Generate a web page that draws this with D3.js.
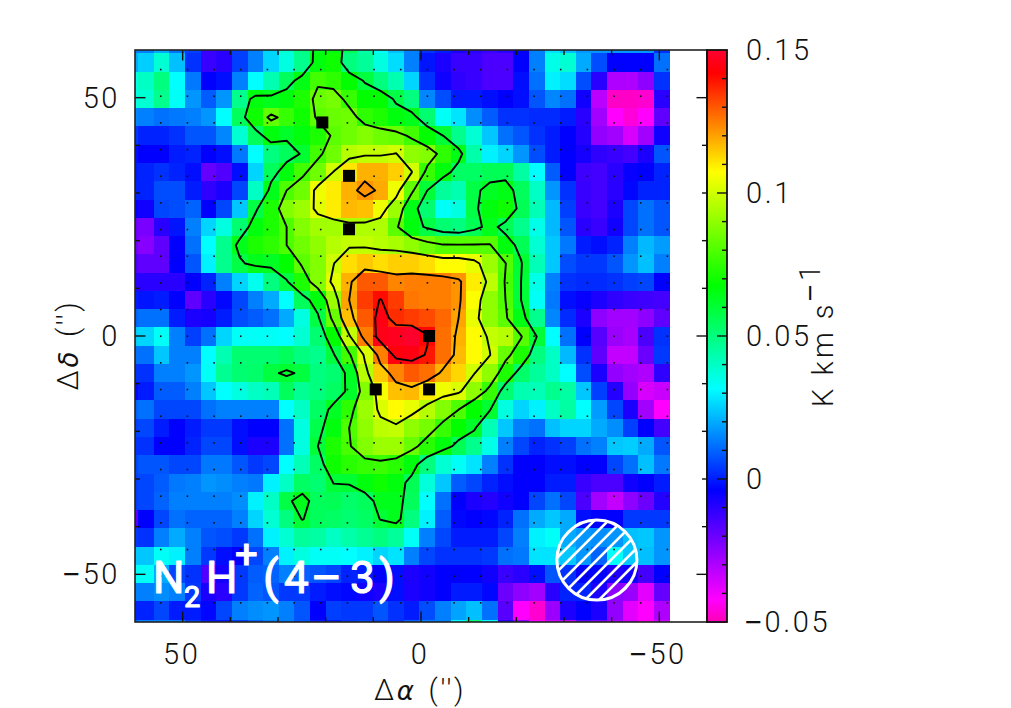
<!DOCTYPE html>
<html><head><meta charset="utf-8">
<script src="https://cdn.jsdelivr.net/npm/d3@7"></script>
<style>html,body{margin:0;padding:0;background:#fff}svg{display:block}
text{font-family:"Roboto","Liberation Sans",sans-serif;font-weight:300;fill:#111}</style></head>
<body><svg id="c" width="1011" height="708"></svg>
<script>
// integrated intensity, mK km/s: one list per map row (north to south), east to west
const row00=[14,14,20,12,5,-12,-10,5,14,26,38,50,64,66,56,44,33,23,14,3,0,-8,-10,-12,-10,-4,14,28,23,17,17,17,17,17,3];
const row01=[20,25,38,23,3,-12,-10,5,14,26,36,48,66,70,50,46,36,27,14,-1,-8,-12,-12,-15,-15,-4,14,35,38,20,7,-4,-4,-4,12];
const row02=[35,40,50,32,13,-4,-2,14,32,43,55,65,78,75,68,59,50,43,26,3,-6,-11,-12,-15,-15,-2,12,30,27,7,-10,-30,-30,-25,3];
const row03=[35,38,48,33,17,9,17,48,66,64,66,72,84,86,76,68,68,58,50,15,7,0,0,-2,-4,-2,8,15,12,-6,-32,-48,-48,-47,-10];
const row04=[15,14,12,13,14,17,32,55,70,83,76,70,82,84,85,75,72,66,64,52,33,28,16,9,3,3,2,2,0,-10,-28,-42,-46,-42,-18];
const row05=[4,1,1,3,8,8,15,38,55,66,62,66,72,82,85,88,85,84,78,68,60,48,38,24,12,8,3,0,-4,-9,-26,-28,-36,-28,-6];
const row06=[-2,-4,-4,0,1,-4,-2,13,32,50,55,61,78,85,96,98,98,100.5,90,88,75,65,44,30,26,17,7,0,-4,-7,-11,-12,-14,-8,8];
const row07=[0,1,3,1,-2,-19,-16,-2,26,55,66,78,85,100.5,111,118,118,114,100.5,76,66,54,54,56,56,45,32,9,-4,-13,-14,-10,-5,-4,1];
const row08=[1,1,7,7,0,-11,-8,6,40,64,80,85,105,110,118,122,119,105,83,60,46,43,58,63,65,55,40,17,3,-12,-14,-10,-3,1,1];
const row09=[-5,-6,6,7,10,-4,6,24,58,72,88,92,103,110,117,116,105,92,65,52,33,36,58,66,70,56,42,22,5,-12,-14,-8,6,12,8];
const row10=[-20,-22,-10,-1,14,26,36,52,66,72,80,88,93,93,95,95,95,82,66,58,52,50,56,64,56,48,35,22,8,-10,-12,-6,6,12,8];
const row11=[-20,-24,-18,-4,12,32,48,64,72,75,80,85,90,96,98,98,96,94,90,85,81,81,81,81,66,56,38,24,13,0,-2,1,14,22,18];
const row12=[-15,-18,-18,-4,8,30,48,58,64,63,68,82,88,99.5,112,115,112,114,114,112,108,108,104,92,80.5,61,42,24,7,4,4,8,17,23,14];
const row13=[-10,-10,-10,-10,-4,1,14,26,34,50,59,72,88,103,118,130,130,124,125,125,125,122,110,97,79,60,35,14,3,2,2,3,5,6,-4];
const row14=[0,-1,0,-4,-18,-10,-3,6,14,20,32,55,66,92,120,134,140.5,134,126,125,125,122,107,90,80,60,33,13,-2,-5,-8,-11,-12,-13,-14];
const row15=[10,12,12,0,-8,-7,0,7,9,12,20,36,58,84,116,130,145,136,134,132,128,120,104,90,82,65,48,15,2,-8,-25,-28,-28,-25,-18];
const row16=[25,26,33,14,5,12,26,33,33,33,32,38,52,68,98,125,146,147,149,141,127,118,108,98,96,81,60,32,12,-4,-17,-27,-29,-15,3];
const row17=[12,12,24,14,14,32,43,52,52,52,55,50,48,59,78,102,125,144,145,139,127,117,108,100.5,84,72,50,40,22,3,-18,-33,-33,-20,4];
const row18=[3,3,14,14,17,33,47,52,53,59,61,59,50,52,63,96,115,124,130,127,118,113,100.5,90,72,53,46,40,32,7,-8,-26,-28,-30,-11];
const row19=[-3,0,9,9,14,24,32,36,40,42,55,47,50,54,62,88,106,116,117,110,105,102,90,76,52,43,42,48,45,24,5,-9,-26,-36,-34];
const row20=[10,12,6,6,6,12,14,14,14,14,32,40,54,63,75,92,102,108,104,96,88,80,68,61,36,26,30,40,45,32,18,6,-8,-28,-42];
const row21=[5,6,0,-4,0,4,4,-2,-4,-4,12,36,57,66,80,90,97,98,90,86,76,68,62,42,24,14,12,23,26,26,20,16,5,-4,-14];
const row22=[3,3,-4,-4,1,6,6,-2,-8,-8,12,36,60,72,79,88,92,92,84,74,66,56,48,35,14,6,1,3,5,12,14,24,25,20,8];
const row23=[6,8,8,6,6,13,13,8,4,6,32,42,54,70,74,76,77,74,66,50,38,33,28,14,3,-4,-4,-2,-2,-4,-4,6,12,23,13];
const row24=[5,6,9,13,14,17,16,14,13,30,40,54,52,60.2,60.8,66,70,66,56,37,24,9,6,1,-2,-4,-4,0,0,-12,-15,-15,-6,-4,0];
const row25=[5,6,10,14,14,14,14,16,30,40,58,64,55,56,53,55,64,64,55,32,12,-4,-8,-9,-6,-4,6,12,6,-15,-28,-33,-25,-20,-9];
const row26=[-18,-4,6,12,10,10,10,14,26,38,50,60.5,55,54,52,54,60.3,64,50,30,9,-3,-4,-3,1,12,20,24,20,-2,-4,-4,4,4,4];
const row27=[4,3,14,20,14,8,7,4,12,30,38,46,45,40,44,47,50,46,33,14,6,0,0,0,6,14,30,33,20,17,16,17,23,24,17];
const row28=[24,24,33,30,14,4,-2,-4,6,14,30,36,33,33,32,30,26,28,14,6,3,3,3,4,12,13,28,28,24,17,10,33,24,23,17];
const row29=[33,33,20,6,3,-16,-7,4,9,10,14,10,8,6,1,0,-4,-2,-8,-6,-4,-4,-4,-6,-12,-10,-2,8,3,-4,-4,-8,-6,-14,-4];
const row30=[14,14,16,14,4,-8,-10,4,10,8,4,4,0,-2,-3,-6,-8,-2,-8,-6,-4,0,0,-3,-20,-25,-28,-10,1,1,-8,-25,-27,-38,-19];
const row31=[1,1,6,0,0,-3,6,14,16,17,14,8,-4,5,4,4,8,3,0,7,14,19,23,12,-17,-42,-47,-27,-8,-4,-8,-26,-38,-42,-30];
const row32=[10,14,14,14,5,0,0,5,10,14,14,8,0,0,4,6,6,3,10,14,14,32,52,32,-10,-25,-42,-35,-32,-18,-22,-30,-36,-44,-36];
const rows=[row00,row01,row02,row03,row04,row05,row06,row07,row08,row09,row10,row11,row12,row13,row14,row15,row16,row17,row18,row19,row20,row21,row22,row23,row24,row25,row26,row27,row28,row29,row30,row31,row32];

const contourLevels=[60,80,100,120,140];
const sourceAlpha=[20.7,15.1,15.1,-1.7,9.5,-1.7];
const sourceDelta=[44.8,33.6,22.4,0,-11.2,-11.2];
const axisTicks=[-50,0,50];
const barLabels=[[150,"0.15"],[100,"0.1"],[50,"0.05"],[0,"0"],[-50,"\u22120.05"]];

// map geometry in arcsec
const firstAlpha=57.7+3.279, stepAlpha=3.279;   // column 0 centre
const firstDelta=57.38+3.833, stepDelta=3.833;  // row 0 centre
const beam={alpha:-36.9,delta:-47,radius:8.4};
const samplingAlpha=d3.range(20).map(k=>54.6-5.594*k);
const samplingDelta=d3.range(21).map(k=>55.9-5.594*k);

const svg=d3.select("#c");
const x=d3.scaleLinear([60,-60],[135,707]);
const y=d3.scaleLinear([60,-60],[50,622]);
const barY=d3.scaleLinear([-50,150],[622,50]);
const color=d3.scaleLinear()
 .domain([-50,-42,-3.8,31.8,67.8,107.5,142,150])
 .range(["#ff00b4","#ff00ff","#0000ff","#00ffff","#00ff00","#ffff00","#ff0000","#ff0032"])
 .clamp(true);

const nCols=rows[0].length,nRows=rows.length;
const cx=c=>x(firstAlpha-stepAlpha*c), cy=r=>y(firstDelta-stepDelta*r);
const defs=svg.append("defs");
defs.append("clipPath").attr("id","frame").append("rect").attr("x",135).attr("y",50).attr("width",572).attr("height",572);

const map=svg.append("g").attr("clip-path","url(#frame)");
const wCell=cx(1)-cx(0),hCell=cy(1)-cy(0);
const cellsG=map.append("g").attr("shape-rendering","crispEdges");
rows.forEach((row,r)=>{
  cellsG.append("g").selectAll("rect").data(row).join("rect")
   .attr("x",(d,c)=>cx(c)-wCell/2).attr("y",cy(r)-hCell/2)
   .attr("width",wCell+0.6).attr("height",hCell+0.6)
   .attr("fill",d=>color(d));
});

// sampling dots
samplingDelta.forEach(dl=>{
  map.append("g").selectAll("rect").data(samplingAlpha).join("rect")
   .attr("x",a=>x(a)-0.8).attr("y",y(dl)-0.8).attr("width",1.6).attr("height",1.6).attr("fill","#111");
});

// contours from the grid
const flat=[];rows.forEach(r=>r.forEach(v=>flat.push(v)));
const contours=d3.contours().size([nCols,nRows]).smooth(true).thresholds(contourLevels)(flat);
const gx=d3.scaleLinear([0.5,nCols-0.5],[cx(0),cx(nCols-1)]);
const gy=d3.scaleLinear([0.5,nRows-0.5],[cy(0),cy(nRows-1)]);
const path=d3.geoPath(d3.geoTransform({point(px,py){this.stream.point(gx(px),gy(py));}}));
map.append("g").selectAll("path").data(contours).join("path")
 .attr("d",path).attr("fill","none").attr("stroke","#000").attr("stroke-width",1.9).attr("stroke-linejoin","round");

// source markers
map.append("g").selectAll("rect").data(sourceAlpha).join("rect")
 .attr("x",a=>x(a)-6).attr("y",(a,i)=>y(sourceDelta[i])-6).attr("width",12).attr("height",12).attr("fill","#000");

// beam
const bx=x(beam.alpha),by=y(beam.delta),br=x(beam.alpha-beam.radius)-bx;
defs.append("clipPath").attr("id","beam").append("circle").attr("cx",bx).attr("cy",by).attr("r",br);
const hatch=svg.append("g").attr("clip-path","url(#beam)");
hatch.selectAll("line").data(d3.range(-8,9)).join("line")
 .attr("x1",k=>bx-br*1.2+k*14).attr("y1",by+br*1.2)
 .attr("x2",k=>bx+br*1.2+k*14).attr("y2",by-br*1.2)
 .attr("stroke","#fff").attr("stroke-width",2.6);
svg.append("circle").attr("cx",bx).attr("cy",by).attr("r",br).attr("fill","none").attr("stroke","#fff").attr("stroke-width",3);

// colour bar
svg.append("g").attr("shape-rendering","crispEdges").selectAll("rect").data(d3.range(-50,150,0.25)).join("rect")
 .attr("x",707).attr("width",20).attr("y",d=>barY(d+0.25)).attr("height",1.4).attr("fill",d=>color(d));

// ticks
const tickG=svg.append("g").attr("stroke","#111").attr("stroke-width",1.4);
const arcTicks=d3.range(-50,51,10);
const len=v=>v%50===0?10.5:5;
arcTicks.forEach(v=>{
  tickG.append("line").attr("x1",135).attr("x2",135+len(v)).attr("y1",y(v)).attr("y2",y(v));
  tickG.append("line").attr("x1",707).attr("x2",707-len(v)).attr("y1",y(v)).attr("y2",y(v));
  tickG.append("line").attr("y1",50).attr("y2",50+len(v)).attr("x1",x(v)).attr("x2",x(v));
  tickG.append("line").attr("y1",622).attr("y2",622-len(v)).attr("x1",x(v)).attr("x2",x(v));
});
d3.range(-40,150,10).forEach(v=>{
  const l=v%50===0?10:5;
  tickG.append("line").attr("x1",727).attr("x2",727-l).attr("y1",barY(v)).attr("y2",barY(v));
});
svg.append("rect").attr("x",135).attr("y",50).attr("width",572).attr("height",572).attr("fill","none").attr("stroke","#222").attr("stroke-width",1.6);
svg.append("rect").attr("x",707).attr("y",50).attr("width",20).attr("height",572).attr("fill","none").attr("stroke","#111").attr("stroke-width",1.8);

// labels: the long minus comes from a wider face
const wideMinus="'Liberation Sans'";
const T=(sel,s)=>{
  sel.attr("font-size",29).attr("letter-spacing",2.6);
  if(s[0]==="\u2212"){
    sel.append("tspan").text("\u2212").style("font-family",wideMinus).style("font-weight",400);
    sel.append("tspan").text(s.slice(1));
  } else sel.text(s);
  return sel;
};
axisTicks.forEach(v=>{
  const s=v<0?"\u2212"+(-v):String(v);
  T(svg.append("text"),s).attr("x",120).attr("y",y(v)+10).attr("text-anchor","end");
  T(svg.append("text"),s).attr("x",x(v)-1).attr("y",664).attr("text-anchor","middle");
});
barLabels.forEach(([v,s])=>{
  T(svg.append("text"),s).attr("x",v<0?745:746).attr("y",barY(v)+10);
});
const greek="'DejaVu Sans'";
const xl=svg.append("text").attr("x",420).attr("y",700).attr("text-anchor","middle").attr("font-size",29).attr("letter-spacing",2.6);
xl.append("tspan").text("\u0394");xl.append("tspan").text("\u03b1").attr("font-style","italic").attr("font-size",26).style("font-family",greek);xl.append("tspan").text("('')").attr("dx",12);
const yl=svg.append("text").attr("transform","translate(78,345) rotate(-90)").attr("text-anchor","middle").attr("font-size",29).attr("letter-spacing",2.6);
yl.append("tspan").text("\u0394");yl.append("tspan").text("\u03b4").attr("font-style","italic").attr("font-size",26).style("font-family",greek);yl.append("tspan").text("('')").attr("dx",12);
const zl=svg.append("text").attr("transform","translate(833,407) rotate(-90)").attr("font-size",29).attr("letter-spacing",3.2);
zl.append("tspan").text("K");zl.append("tspan").text("km").attr("dx",10);zl.append("tspan").text("s").attr("dx",10);
zl.append("tspan").text("\u2212").attr("dy",-13).style("font-family",wideMinus).style("font-weight",400);zl.append("tspan").text("1");

// species label
const lab=svg.append("g");
const put=(s,px,py,fs,fam)=>lab.append("text").attr("x",px).attr("y",py).attr("font-size",fs).text(s)
  .style("fill","#fff").style("font-weight",400).style("font-family",fam||null).attr("stroke","#fff").attr("stroke-width",1.1).attr("stroke-linejoin","round");
put("N",153,593,44);put("2",184,607,29);put("H",206,593,44);put("+",235,568,40);
put("(",263,593,46);put("4",284,593,44);put("\u2212",312,593,48,wideMinus);put("3",350,593,44);put(")",379,593,46);
</script></body></html>
